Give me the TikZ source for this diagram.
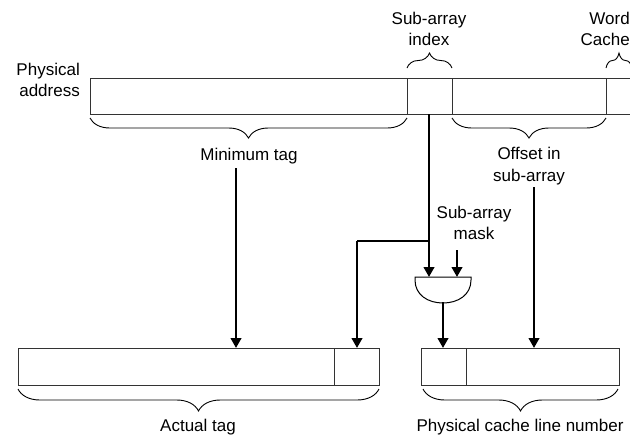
\documentclass[tikz,border=0pt]{standalone}
\usepackage{fontspec}
\setmainfont{Liberation Sans}
\usetikzlibrary{arrows.meta,decorations.pathreplacing}
\begin{document}
\begin{tikzpicture}[x=1pt,y=-1pt,
  field/.style={draw=black!80, line width=0.9pt, inner sep=0pt, outer sep=0pt, anchor=north west},
  arr/.style={line width=2.6pt, -{Triangle[length=10pt,width=10.5pt]}},
  wire/.style={line width=1.6pt},
  brc/.style={decorate, decoration={brace, amplitude=20pt, aspect=0.5}, line width=0.9pt},
  lbl/.style={font=\fontsize{17}{21.5}\selectfont, align=center, inner sep=0pt}]
\useasboundingbox (0,0) rectangle (630,437);
\clip (0,0) rectangle (630,437);
% top address bar
\node[field, minimum width=317pt, minimum height=36pt] (tagf) at (90,78) {};
\node[field, minimum width=45pt, minimum height=36pt] (idx) at (407,78) {};
\node[field, minimum width=154pt, minimum height=36pt] (off) at (452,78) {};
\node[field, minimum width=40pt, minimum height=36pt] (word) at (606,78) {};
% bottom bars
\node[field, minimum width=316pt, minimum height=37pt] (atag) at (18,348) {};
\node[field, minimum width=45pt, minimum height=37pt] (aidx) at (334,348) {};
\node[field, minimum width=45pt, minimum height=37pt] (pidx) at (421,348) {};
\node[field, minimum width=153pt, minimum height=37pt] (poff) at (466,348) {};
% labels
\node[lbl, align=right, anchor=east] (pa) at (80,80) {Physical\\address};
\node[lbl] (sai) at (429,29) {Sub-array\\index};
\node[lbl, align=right, anchor=east] (wc) at (630,29) {Word\\Cache};
\node[lbl] (mt) at (249,156) {Minimum tag};
\node[lbl] (ois) at (529,166) {Offset in\\sub-array};
\node[lbl] (sam) at (474,223) {Sub-array\\mask};
\node[lbl] (at) at (198,427) {Actual tag};
\node[lbl] (pcl) at (520,427) {Physical cache line number};
% braces
\draw[brc, decoration={amplitude=15pt}] (407,68) coordinate (bi1) -- (452,68);
\draw[brc, decoration={amplitude=15pt}] (606,68) coordinate (bw1) -- (632,68);
\draw[brc, decoration={mirror}] (90,118) coordinate (bm1) -- (407,118);
\draw[brc, decoration={mirror}] (452,118) coordinate (bo1) -- (606,118);
\draw[brc, decoration={mirror, amplitude=22pt}] (18,389) coordinate (ba1) -- (379,389);
\draw[brc, decoration={mirror, amplitude=22pt}] (423,389) coordinate (bp1) -- (618,389);
% gate
\coordinate (gL) at (415,277);
\coordinate (gR) at (471,277);
\coordinate (gB) at (443,303);
\draw[line width=1pt] (gL) -- (gR) -- (471,280) .. controls (471,295) and (458,303) .. (gB) .. controls (428,303) and (415,295) .. (415,280) -- cycle;
% connectors
\coordinate (s1) at (236,168);
\draw[arr] (s1) -- (s1 |- atag.north);
\coordinate (s2) at (534,187);
\draw[arr] (s2) -- (s2 |- poff.north);
\coordinate (s3) at (429,114);
\coordinate (br) at (429,241);
\coordinate (br2) at (357,241);
\draw[wire] (br) -- (br2);
\draw[arr] (s3) -- (s3 |- gL);
\draw[arr] (br2) -- (br2 |- aidx.north);
\coordinate (s4) at (457,250);
\draw[arr] (s4) -- (s4 |- gR);
\coordinate (g0) at (443,302);
\draw[arr] (g0) -- (g0 |- pidx.north);
\end{tikzpicture}
\end{document}
